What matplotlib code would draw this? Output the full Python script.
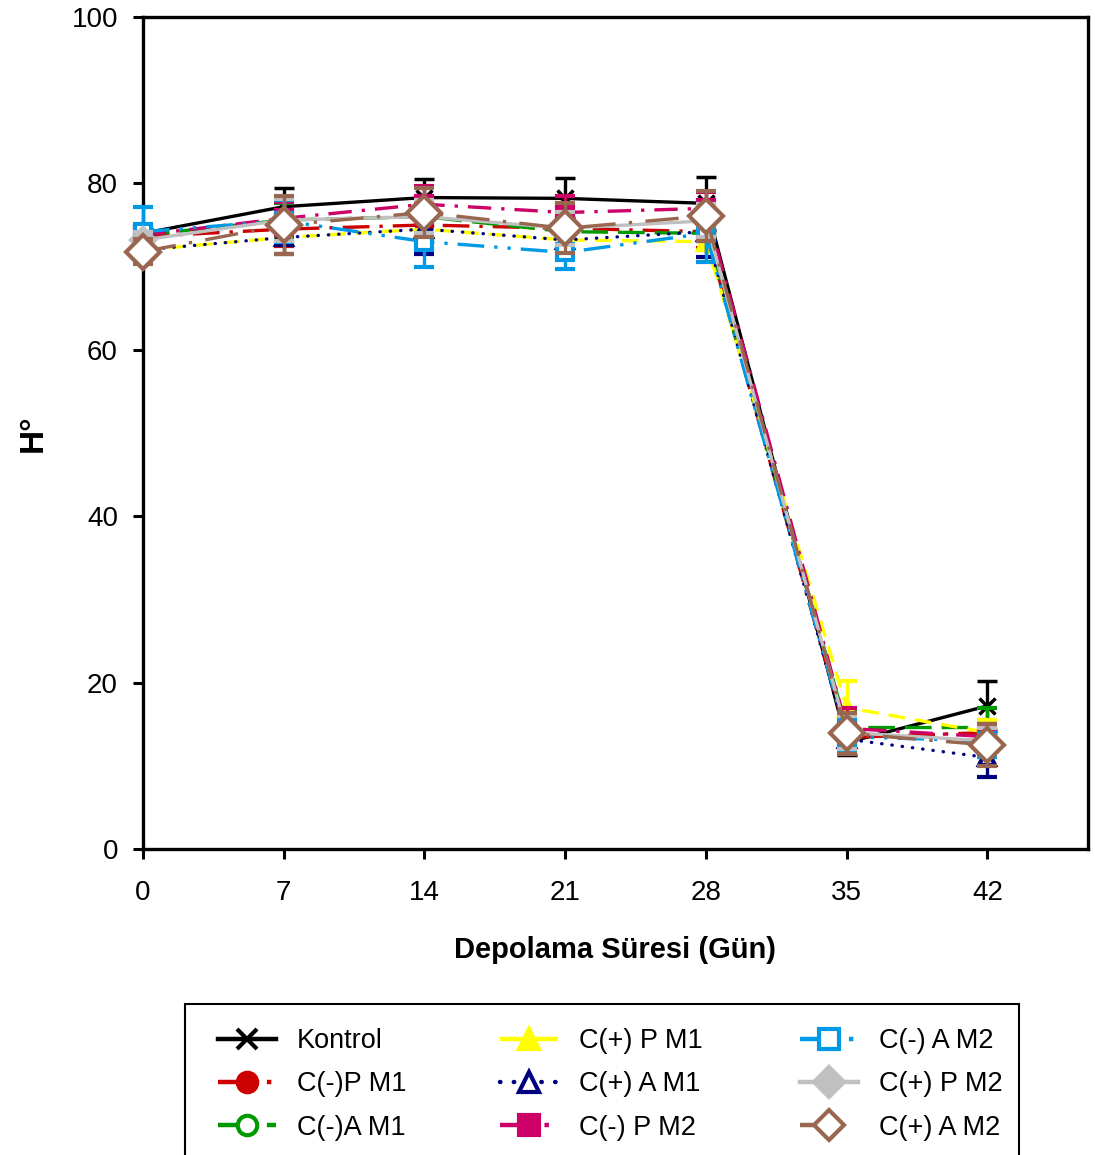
import matplotlib
matplotlib.use("Agg")
import matplotlib.pyplot as plt
from matplotlib.patches import Rectangle
from matplotlib.lines import Line2D

plt.rcParams['font.family'] = ['Liberation Sans', 'DejaVu Sans']

# data
days = [0, 7, 14, 21, 28, 35, 42]
labels = ["Kontrol", "C(-)P M1", "C(-)A M1", "C(+) P M1", "C(+) A M1",
          "C(-) P M2", "C(-) A M2", "C(+) P M2", "C(+) A M2"]

kontrol = [74.0, 77.2, 78.3, 78.2, 77.6, 12.8, 17.2]
kontrol_err = [0.5, 2.2, 2.2, 2.4, 3.2, 1.5, 3.0]
cm_p_m1 = [73.6, 74.5, 75.0, 74.6, 74.2, 13.4, 14.0]
cm_p_m1_err = [1.0, 2.0, 2.5, 2.0, 2.0, 2.0, 1.5]
cm_a_m1 = [73.8, 75.6, 76.0, 74.2, 74.0, 14.6, 14.6]
cm_a_m1_err = [1.0, 2.0, 2.0, 1.8, 2.0, 2.0, 2.3]
cp_p_m1 = [72.0, 73.5, 74.5, 73.2, 73.0, 17.0, 14.0]
cp_p_m1_err = [1.5, 2.0, 2.5, 2.0, 2.5, 3.2, 1.5]
cp_a_m1 = [72.0, 73.5, 74.5, 73.2, 74.2, 13.2, 11.0]
cp_a_m1_err = [1.5, 2.0, 3.0, 2.0, 3.0, 1.8, 2.4]
cm_p_m2 = [73.8, 75.8, 77.5, 76.5, 77.0, 14.5, 13.5]
cm_p_m2_err = [1.0, 2.0, 2.2, 2.0, 2.0, 2.5, 1.5]
cm_a_m2 = [74.2, 75.5, 73.0, 71.7, 74.0, 13.5, 13.0]
cm_a_m2_err = [3.0, 2.5, 3.0, 2.0, 3.5, 2.0, 2.0]
cp_p_m2 = [73.2, 75.6, 76.0, 74.6, 75.5, 14.0, 13.0]
cp_p_m2_err = [1.0, 2.5, 2.0, 2.0, 2.0, 2.0, 1.5]
cp_a_m2 = [71.8, 75.0, 76.5, 74.6, 76.1, 13.9, 12.5]
cp_a_m2_err = [1.5, 3.5, 3.0, 3.0, 3.0, 2.5, 2.5]

values = [kontrol, cm_p_m1, cm_a_m1, cp_p_m1, cp_a_m1, cm_p_m2, cm_a_m2, cp_p_m2, cp_a_m2]
errors = [kontrol_err, cm_p_m1_err, cm_a_m1_err, cp_p_m1_err, cp_a_m1_err,
          cm_p_m2_err, cm_a_m2_err, cp_p_m2_err, cp_a_m2_err]

# styles: color, marker, filled, dashes
styles = [
    ("black", "x", True, "-"),
    ("#CC0000", "o", True, (0, (8, 3, 1, 3))),
    ("#009900", "o", False, (0, (8, 3))),
    ("#FFFF00", "^", True, (0, (5, 3))),
    ("#000080", "^", False, (0, (0.1, 3))),
    ("#CC0066", "s", True, (0, (7, 3, 1, 3))),
    ("#0099E6", "s", False, (0, (8, 3, 1, 3, 1, 3))),
    ("#C0C0C0", "D", True, "-"),
    ("#996650", "D", False, (0, (10, 4, 1, 4))),
]

fig = plt.figure(figsize=(10.95, 11.55), dpi=100)
ax = fig.add_axes([143 / 1095, 1 - 849 / 1155, (1088 - 143) / 1095, (849 - 17) / 1155])

handles = []
for i, (vals, errs, (color, marker, filled, ls)) in enumerate(zip(values, errors, styles)):
    if marker == "D":
        ms = 17 if not filled else 12
    else:
        ms = 11
    eb = ax.errorbar(days, vals, yerr=errs, color=color, ecolor=color,
                     linestyle=ls, linewidth=2.4, marker=marker, markersize=ms,
                     markerfacecolor=color if filled else "white",
                     markeredgecolor=color, markeredgewidth=3 if marker != "x" else 2.5,
                     elinewidth=2.4, capsize=7.5, capthick=3, clip_on=False, zorder=3 + i)
    for art in [eb.lines[0]] + list(eb.lines[1]) + list(eb.lines[2]):
        art.set_clip_on(False)
    cap = "round" if ls == (0, (0.1, 3)) else "butt"
    eb.lines[0].set_dash_capstyle(cap)
    handles.append(Line2D([], [], color=color, linestyle=ls, linewidth=3.2,
                          dash_capstyle=cap, marker=marker,
                          markersize=14 if marker != "D" else 15,
                          markerfacecolor=color if filled else "white",
                          markeredgecolor=color, markeredgewidth=3))

ax.set_xlim(0, 47)
ax.set_ylim(0, 100)
ax.set_xticks(days)
ax.set_yticks([0, 20, 40, 60, 80, 100])
ax.tick_params(direction="out", length=7, width=2.2, labelsize=20)
ax.tick_params(axis="x", pad=15)
ax.tick_params(axis="y", pad=11)
for sp in ax.spines.values():
    sp.set_linewidth(2.4)

fig.text(33 / 1095, 1 - 433 / 1155, "H°", rotation=90, fontsize=24,
         fontweight="bold", ha="center", va="center")
fig.text(615 / 1095, 1 - 950 / 1155, "Depolama Süresi (Gün)", fontsize=21,
         fontweight="bold", ha="center", va="center")

# legend box runs off the bottom edge
fig.patches.append(Rectangle((185 / 1095, -0.01), (1019 - 185) / 1095, 1 - 1004 / 1155 + 0.01,
                             transform=fig.transFigure, fill=False, edgecolor="black",
                             linewidth=1.5))
col_x = [218, 500, 800]
for c in range(3):
    leg = fig.legend(handles[3 * c:3 * c + 3], labels[3 * c:3 * c + 3], loc="upper left",
                     bbox_to_anchor=(col_x[c] / 1095, 1 - 1028 / 1155), frameon=False,
                     fontsize=19.5, handlelength=2.15, labelspacing=0.64,
                     handletextpad=0.75, borderpad=0, borderaxespad=0)

fig.savefig("out.png", dpi=100)
